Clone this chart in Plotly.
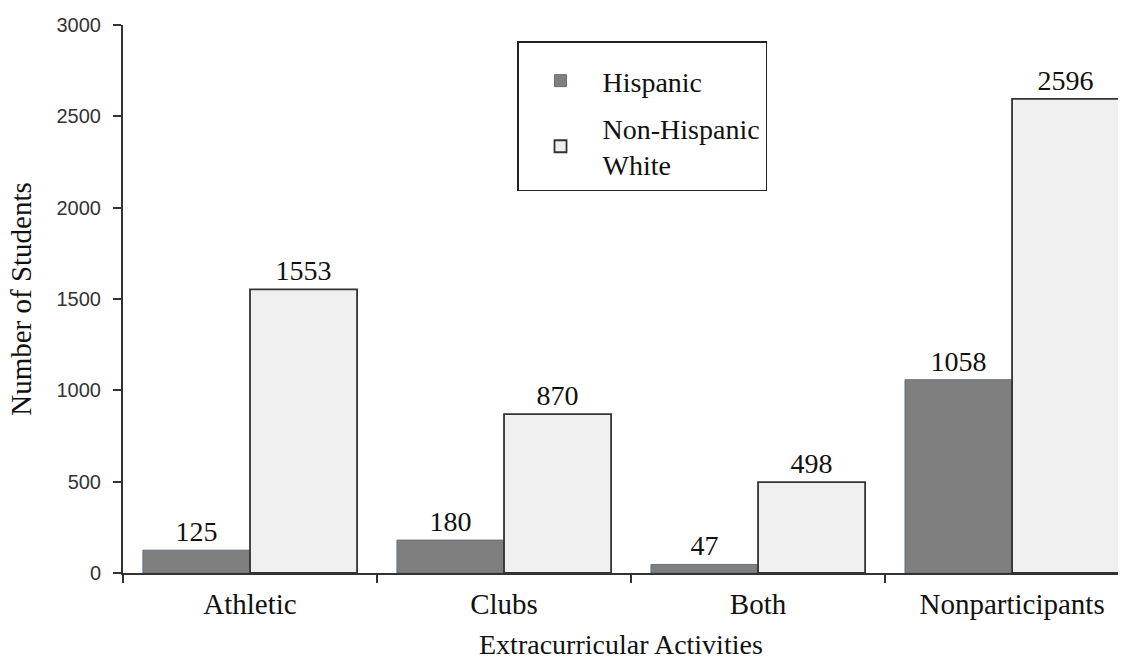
import plotly.graph_objects as go

categories = ["Athletic", "Clubs", "Both", "Nonparticipants"]
hispanic = [125, 180, 47, 1058]
non_hispanic_white = [1553, 870, 498, 2596]
series_names = ["Hispanic", "Non-Hispanic<br>White"]
y_ticks = [0, 500, 1000, 1500, 2000, 2500, 3000]

serif = "Liberation Serif, Times New Roman, serif"
sans = "Liberation Sans, Arial, sans-serif"

fig = go.Figure()
fig.add_trace(go.Bar(
    x=categories, y=hispanic, name=series_names[0], legendgroup="hisp",
    marker=dict(color="#7f7f7f", line=dict(color="#5f6f85", width=1)),
    text=[str(v) for v in hispanic], textposition="outside",
    textfont=dict(family=serif, size=28, color="#111"),
    cliponaxis=False,
))
fig.add_trace(go.Bar(
    x=categories, y=non_hispanic_white, name=series_names[1], legendgroup="nhw",
    marker=dict(color="#f0f0f0", line=dict(color="#333333", width=1.8)),
    text=[str(v) for v in non_hispanic_white], textposition="outside",
    textfont=dict(family=serif, size=28, color="#111"),
    cliponaxis=False,
))

# x-axis title placed just above the bottom edge of the page
fig.add_annotation(
    text="Extracurricular Activities", xref="paper", yref="paper",
    x=0.5, y=(573 - 644) / 548, xanchor="center", yanchor="middle",
    showarrow=False, font=dict(family=serif, size=28, color="#111"),
)

fig.update_layout(
    width=1124, height=663,
    margin=dict(l=123, r=6, t=25, b=90),
    paper_bgcolor="white", plot_bgcolor="white",
    barmode="group", bargap=0.157, bargroupgap=0,
    showlegend=True,
    legend=dict(
        x=0.396, y=0.97, xanchor="left", yanchor="top",
        bordercolor="#222", borderwidth=1.5, bgcolor="white",
        font=dict(family=serif, size=28, color="#111"),
        title=dict(text=" ", font=dict(size=10)),
        itemwidth=74, tracegroupgap=8,
    ),
    xaxis=dict(
        type="category", range=[-0.5, 3.417], automargin=False,
        tickson="boundaries", ticks="outside", ticklen=8, tickwidth=1.5, tickcolor="#333",
        ticklabelstandoff=4,
        showline=True, linecolor="#333", linewidth=2,
        tickfont=dict(family=serif, size=29, color="#111"),
        showgrid=False, zeroline=False,
    ),
    yaxis=dict(
        range=[0, 3000], tickvals=y_ticks,
        ticks="outside", ticklen=8, tickwidth=1.5, tickcolor="#333",
        ticklabelstandoff=8,
        showline=True, linecolor="#333", linewidth=2,
        tickfont=dict(family=sans, size=20, color="#333"),
        title=dict(text="Number of Students", font=dict(family=serif, size=29, color="#111"), standoff=16),
        showgrid=False, zeroline=False,
    ),
)

fig.write_html("out.html")
